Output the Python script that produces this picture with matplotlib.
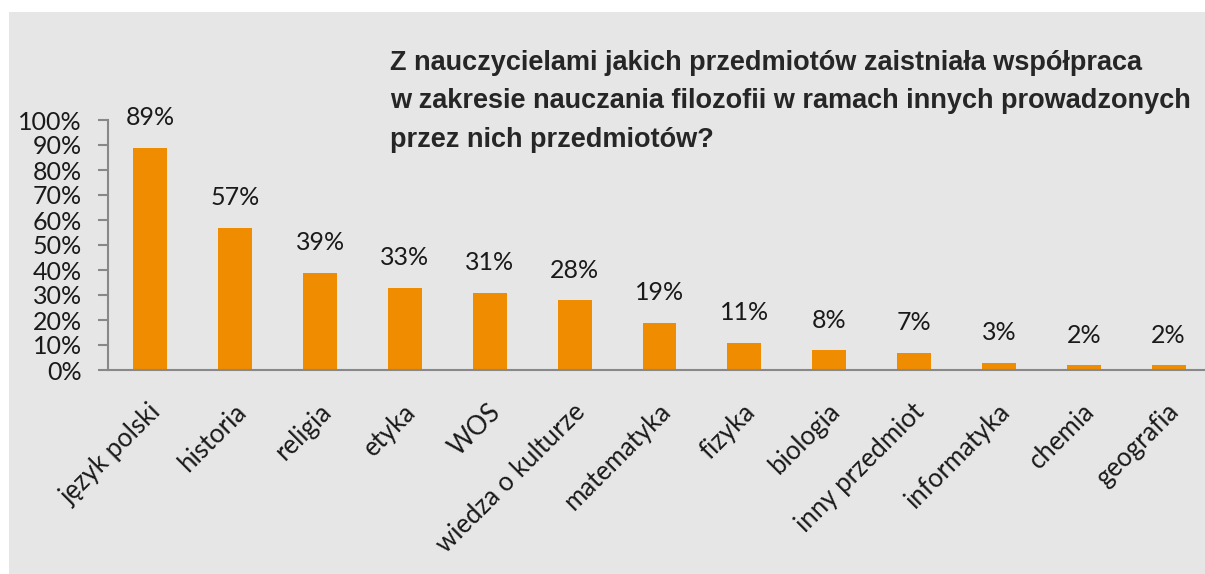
import matplotlib.pyplot as plt
import matplotlib.transforms as mtransforms
import numpy as np

# dane z wykresu
przedmioty = ['język polski', 'historia', 'religia', 'etyka', 'WOS',
              'wiedza o kulturze', 'matematyka', 'fizyka', 'biologia',
              'inny przedmiot', 'informatyka', 'chemia', 'geografia']
procenty = [89, 57, 39, 33, 31, 28, 19, 11, 8, 7, 3, 2, 2]
etykiety_y = [f'{v}%' for v in range(0, 101, 10)]

tytul = ('Z nauczycielami jakich przedmiotów zaistniała współpraca\n'
         'w zakresie nauczania filozofii w ramach innych prowadzonych\n'
         'przez nich przedmiotów?')

W, H = 1205, 574
fig = plt.figure(figsize=(W / 100, H / 100), dpi=100)
fig.patch.set_facecolor('white')

# szare tło panelu
tlo = fig.add_axes([9 / W, 0, 1 - 9 / W, 1 - 12 / H])
tlo.set_facecolor('#E6E6E6')
tlo.set_xticks([])
tlo.set_yticks([])
for s in tlo.spines.values():
    s.set_visible(False)

ax = fig.add_axes([108 / W, (H - 370) / H, (1211 - 108) / W, 250 / H])
ax.set_facecolor('none')

x = np.arange(len(przedmioty))
ax.bar(x, procenty, width=0.4, color='#F08C00')
for xi, v in zip(x, procenty):
    ax.annotate(f'{v}%', (xi, v), xytext=(0, 13), textcoords='offset points',
                ha='center', va='bottom', fontsize=18, family='Lato',
                color='#1a1a1a')

ax.set_xlim(-0.5, len(przedmioty) - 0.5)
ax.set_ylim(0, 100)
ax.set_yticks(range(0, 101, 10))
ax.set_yticklabels(etykiety_y, fontsize=18, family='Lato', color='#1a1a1a')
ax.tick_params(axis='y', direction='out', length=7, width=1.5,
               color='#888888', pad=12)
ax.set_xticks(x)
ax.set_xticklabels(przedmioty, rotation=45, ha='right', va='top',
                   rotation_mode='anchor', fontsize=18.5, family='Lato',
                   color='#1a1a1a')
ax.tick_params(axis='x', length=0, pad=21)
przes = mtransforms.ScaledTranslation(-1.5 / 72, 0, fig.dpi_scale_trans)
for lab in ax.get_xticklabels():
    lab.set_transform(lab.get_transform() + przes)
for s in ['top', 'right']:
    ax.spines[s].set_visible(False)
ax.spines['left'].set_color('#888888')
ax.spines['bottom'].set_color('#888888')
ax.spines['left'].set_linewidth(1.5)
ax.spines['bottom'].set_linewidth(1.5)

fig.text(390 / W, 1 - 50 / H, tytul, ha='left', va='top',
         fontsize=19.5, fontweight='bold', family='Liberation Sans',
         color='#262626', linespacing=1.62)

fig.savefig('out.png', dpi=100)
